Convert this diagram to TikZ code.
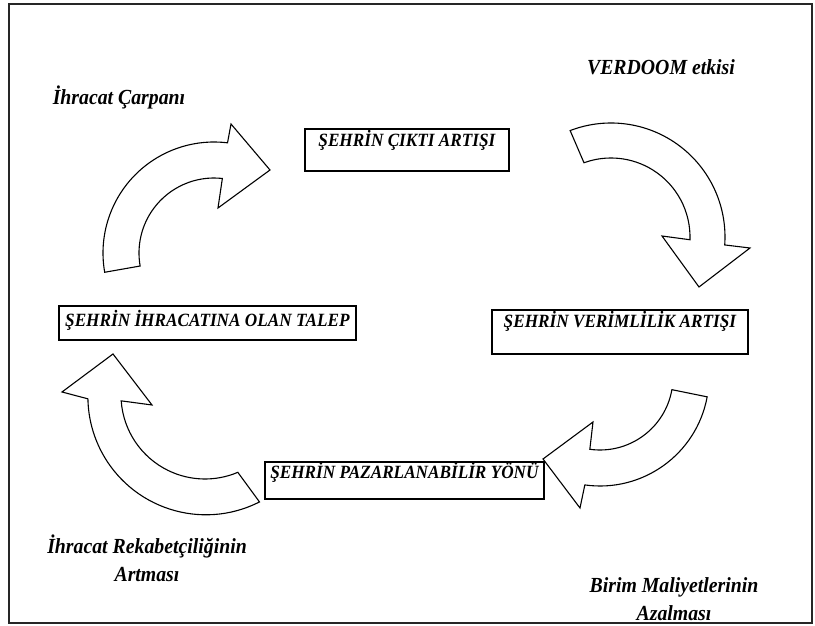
\documentclass[tikz,border=0pt]{standalone}
\usepackage{fontspec}
\setmainfont{Liberation Serif}
\newfontfamily\narrowserif{Liberation Serif}[FakeStretch=0.92]
\usetikzlibrary{positioning, calc}
\tikzset{%
  box/.style = {rectangle, draw, line width=1.8pt, fill=white, inner sep=0pt,
                anchor=north west,
                font=\narrowserif\fontsize{18.7}{22}\selectfont\bfseries\itshape},
  curvedArrow/.style = {draw, line width=1.1pt, fill=white, line join=miter},
  effect/.style = {inner sep=0pt, align=center,
                   font=\narrowserif\fontsize{21.5}{28}\selectfont\bfseries\itshape},
  frame/.style = {draw=black!85, line width=1.5pt}
  }

\begin{document}
\begin{tikzpicture}[x=1pt, y=1pt]
    \useasboundingbox (0,0) rectangle (815,626);
    \path[frame] (9,3) rectangle (812,622);

    \coordinate (ac1) at (214,373);
    \coordinate (ac2) at (611,389);
    \coordinate (ac3) at (600,249);
    \coordinate (ac4) at (205,231);

    \draw[curvedArrow] ($(ac1)+(190:111)$) arc[start angle=190, end angle=83, radius=111]
        -- (231,502) -- (270,456) -- (218,418) -- ($(ac1)+(83.6:75)$)
        arc[start angle=83.6, end angle=190, radius=75] -- cycle;
    \draw[curvedArrow] ($(ac2)+(111:114)$) arc[start angle=111, end angle=-4, radius=114]
        -- (750,378) -- (699,339) -- (662,390) -- ($(ac2)+(-2:79)$)
        arc[start angle=-2, end angle=110, radius=79] -- cycle;
    \draw[curvedArrow] ($(ac3)+(-10.5:109)$) arc[start angle=-10.5, end angle=-98, radius=109]
        -- (580,118) -- (543,167) -- (593,204) -- ($(ac3)+(-98:73)$)
        arc[start angle=-98, end angle=-10, radius=73] -- cycle;
    \draw[curvedArrow] ($(ac4)+(-63:120)$) arc[start angle=-63, end angle=-179, radius=118]
        -- (62,234) -- (113,272) -- (152,221) -- ($(ac4)+(-176:84)$)
        arc[start angle=-176, end angle=-67, radius=84] -- cycle;

    \node (cikti) [box, minimum width=204pt, text height=18pt, text depth=24pt] at (304,498) {ŞEHRİN ÇIKTI ARTIŞI};
    \node (talep) [box, minimum width=297pt, text height=21pt, text depth=13pt] at (58,321) {ŞEHRİN İHRACATINA OLAN TALEP};
    \node (verim) [box, minimum width=256pt, text height=18pt, text depth=26pt] at (491,317) {ŞEHRİN VERİMLİLİK ARTIŞI};
    \node (pazar) [box, minimum width=279pt, text height=17pt, text depth=20pt] at (264,165) {ŞEHRİN PAZARLANABİLİR YÖNÜ};

    \node (carpan)  [effect, anchor=base] at (119,521) {İhracat Çarpanı};
    \node (verdoom) [effect, anchor=base] at (661,551) {VERDOOM etkisi};
    \node (rekabet) [effect] at (147,68) {İhracat Rekabetçiliğinin\\Artması};
    \node (maliyet) [effect] at (674,27) {Birim Maliyetlerinin\\Azalması};
\end{tikzpicture}
\end{document}
